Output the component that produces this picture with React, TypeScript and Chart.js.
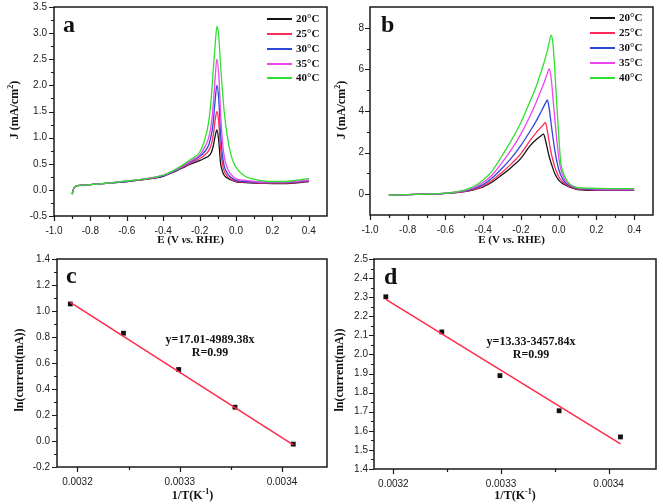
import React, { useEffect, useRef } from "react";
import { Chart, registerables } from "chart.js";

Chart.register(...registerables);

const SERIF = '"Liberation Serif", "Times New Roman", serif';
const SANS = '"Liberation Sans", Arial, sans-serif';

const TEMP_LABELS = ["20°C", "25°C", "30°C", "35°C", "40°C"];
const TEMP_COLORS = ["#141414", "#ff2a5a", "#2d48d6", "#f046f0", "#2fe02f"];
const FIT_COLOR = "#ff2a4a";

// ---------- Panel a ----------
const A_E = [-0.9, -0.895, -0.89, -0.88, -0.85, -0.8, -0.7, -0.6, -0.5, -0.4, -0.35, -0.3, -0.25, -0.2, -0.175, -0.15, -0.135, -0.125, -0.115, -0.105, -0.095, -0.085, -0.075, -0.065, -0.05, -0.035, -0.02, 0, 0.05, 0.1, 0.15, 0.2, 0.25, 0.3, 0.35, 0.4];
const A_J20 = [-0.08, -0.01, 0.04, 0.07, 0.09, 0.1, 0.13, 0.16, 0.2, 0.26, 0.33, 0.41, 0.49, 0.56, 0.6, 0.65, 0.72, 0.84, 1.02, 1.15, 0.95, 0.52, 0.36, 0.28, 0.23, 0.2, 0.18, 0.155, 0.14, 0.13, 0.125, 0.12, 0.12, 0.125, 0.14, 0.16];
const A_J25 = [-0.08, -0.01, 0.04, 0.07, 0.09, 0.1, 0.13, 0.16, 0.2, 0.27, 0.34, 0.42, 0.51, 0.6, 0.66, 0.75, 0.88, 1.05, 1.32, 1.5, 1.3, 0.8, 0.5, 0.36, 0.27, 0.22, 0.19, 0.165, 0.15, 0.14, 0.13, 0.13, 0.13, 0.135, 0.15, 0.17];
const A_J30 = [-0.08, -0.01, 0.04, 0.07, 0.09, 0.1, 0.13, 0.16, 0.21, 0.27, 0.34, 0.43, 0.53, 0.64, 0.72, 0.86, 1.06, 1.3, 1.7, 2.0, 1.75, 1.1, 0.68, 0.46, 0.33, 0.26, 0.22, 0.18, 0.16, 0.15, 0.14, 0.14, 0.14, 0.145, 0.16, 0.18];
const A_J35 = [-0.08, -0.01, 0.04, 0.07, 0.09, 0.1, 0.13, 0.17, 0.21, 0.28, 0.35, 0.44, 0.55, 0.67, 0.8, 1.0, 1.28, 1.62, 2.12, 2.5, 2.22, 1.5, 0.95, 0.64, 0.44, 0.33, 0.27, 0.21, 0.18, 0.16, 0.15, 0.15, 0.15, 0.155, 0.17, 0.19];
const A_J40 = [-0.08, -0.01, 0.04, 0.07, 0.09, 0.1, 0.13, 0.17, 0.21, 0.28, 0.36, 0.46, 0.58, 0.72, 0.92, 1.3, 1.8, 2.3, 2.75, 3.13, 2.95, 2.4, 1.92, 1.5, 1.08, 0.78, 0.58, 0.43, 0.26, 0.2, 0.17, 0.16, 0.16, 0.17, 0.19, 0.22];
const A_X_TICKS = [-1.0, -0.8, -0.6, -0.4, -0.2, 0.0, 0.2, 0.4];
const A_X_MINOR = [-0.9, -0.7, -0.5, -0.3, -0.1, 0.1, 0.3];
const A_Y_TICKS = [-0.5, 0.0, 0.5, 1.0, 1.5, 2.0, 2.5, 3.0, 3.5];
const A_Y_MINOR = [-0.25, 0.25, 0.75, 1.25, 1.75, 2.25, 2.75, 3.25];

// ---------- Panel b ----------
const B_E20 = [-0.9, -0.8, -0.7, -0.6, -0.5, -0.45, -0.4, -0.35, -0.3, -0.25, -0.2, -0.15, -0.12, -0.1, -0.08, -0.07, -0.06, -0.05, -0.04, -0.02, 0, 0.02, 0.04, 0.07, 0.1, 0.15, 0.2, 0.3, 0.4];
const B_J20 = [-0.05, -0.02, 0.0, 0.04, 0.12, 0.21, 0.35, 0.6, 0.93, 1.3, 1.72, 2.35, 2.62, 2.76, 2.89, 2.6, 2.2, 1.8, 1.5, 0.98, 0.68, 0.52, 0.42, 0.3, 0.22, 0.19, 0.18, 0.18, 0.18];
const B_E25 = [-0.9, -0.8, -0.7, -0.6, -0.5, -0.45, -0.4, -0.35, -0.3, -0.25, -0.2, -0.15, -0.12, -0.1, -0.08, -0.07, -0.06, -0.05, -0.04, -0.03, -0.02, 0, 0.02, 0.04, 0.07, 0.1, 0.15, 0.2, 0.3, 0.4];
const B_J25 = [-0.05, -0.02, 0.0, 0.04, 0.13, 0.23, 0.39, 0.68, 1.05, 1.47, 1.95, 2.6, 2.95, 3.15, 3.35, 3.45, 3.05, 2.5, 2.0, 1.62, 1.3, 0.85, 0.6, 0.46, 0.33, 0.25, 0.22, 0.2, 0.19, 0.19];
const B_E30 = [-0.9, -0.8, -0.7, -0.6, -0.5, -0.45, -0.4, -0.35, -0.3, -0.25, -0.2, -0.15, -0.12, -0.1, -0.08, -0.07, -0.06, -0.05, -0.04, -0.03, -0.02, -0.01, 0, 0.02, 0.04, 0.07, 0.1, 0.15, 0.2, 0.3, 0.4];
const B_J30 = [-0.05, -0.02, 0.0, 0.04, 0.15, 0.27, 0.46, 0.8, 1.25, 1.75, 2.35, 3.05, 3.5, 3.85, 4.2, 4.38, 4.53, 4.1, 3.4, 2.7, 2.1, 1.6, 1.2, 0.75, 0.52, 0.36, 0.28, 0.24, 0.22, 0.21, 0.21];
const B_E35 = [-0.9, -0.8, -0.7, -0.6, -0.5, -0.45, -0.4, -0.35, -0.3, -0.25, -0.2, -0.15, -0.12, -0.1, -0.08, -0.06, -0.05, -0.04, -0.03, -0.02, -0.01, 0, 0.01, 0.02, 0.04, 0.07, 0.1, 0.15, 0.2, 0.3, 0.4];
const B_J35 = [-0.05, -0.02, 0.0, 0.05, 0.17, 0.31, 0.56, 0.95, 1.52, 2.15, 2.9, 3.8, 4.4, 4.85, 5.3, 5.8, 6.02, 5.6, 4.6, 3.6, 2.6, 1.8, 1.25, 0.95, 0.6, 0.4, 0.31, 0.27, 0.25, 0.24, 0.24];
const B_E40 = [-0.9, -0.8, -0.7, -0.6, -0.5, -0.45, -0.4, -0.35, -0.3, -0.25, -0.2, -0.15, -0.12, -0.1, -0.08, -0.06, -0.05, -0.04, -0.03, -0.02, -0.01, 0, 0.01, 0.02, 0.035, 0.05, 0.07, 0.1, 0.15, 0.2, 0.3, 0.4];
const B_J40 = [-0.05, -0.02, 0.0, 0.05, 0.2, 0.37, 0.68, 1.15, 1.85, 2.6, 3.45, 4.5, 5.15, 5.7, 6.25, 6.9, 7.3, 7.65, 7.2, 5.9, 4.3, 2.9, 1.6, 1.15, 0.8, 0.58, 0.42, 0.31, 0.29, 0.28, 0.27, 0.27];
const B_X_TICKS = [-1.0, -0.8, -0.6, -0.4, -0.2, 0.0, 0.2, 0.4];
const B_X_MINOR = [-0.9, -0.7, -0.5, -0.3, -0.1, 0.1, 0.3];
const B_Y_TICKS = [0, 2, 4, 6, 8];
const B_Y_MINOR = [1, 3, 5, 7];

// ---------- Panels c and d ----------
const INV_T = [0.003193, 0.003245, 0.003299, 0.003354, 0.003411];
const C_LN = [1.054, 0.829, 0.55, 0.26, -0.024];
const D_LN = [2.302, 2.118, 1.889, 1.705, 1.568];
const FIT_X = [0.003193, 0.003411];
const C_FIT = [1.067, -0.029];
const D_FIT = [2.288, 1.532];
const CD_X_TICKS = [0.0032, 0.0033, 0.0034];
const CD_X_MINOR = [0.00325, 0.00335];
const C_Y_TICKS = [-0.2, 0.0, 0.2, 0.4, 0.6, 0.8, 1.0, 1.2, 1.4];
const C_Y_MINOR = [-0.1, 0.1, 0.3, 0.5, 0.7, 0.9, 1.1, 1.3];
const D_Y_TICKS = [1.4, 1.5, 1.6, 1.7, 1.8, 1.9, 2.0, 2.1, 2.2, 2.3, 2.4, 2.5];
const D_Y_MINOR = [1.45, 1.55, 1.65, 1.75, 1.85, 1.95, 2.05, 2.15, 2.25, 2.35, 2.45];
const C_EQ = ["y=17.01-4989.38x", "R=0.99"];
const D_EQ = ["y=13.33-3457.84x", "R=0.99"];

type Seg = { t: string; f: string; dy?: number };
type Axis = { min: number; max: number; ticks: number[]; minor: number[]; digits: number; pad: number };
type Spec = {
  key: string;
  left: number; top: number; w: number; h: number;
  area: { l: number; t: number; r: number; b: number };
  x: Axis; y: Axis;
  datasets: any[];
  letter: { t: string; x: number; y: number };
  xTitle: { segs: Seg[]; x: number; y: number };
  yTitle: { segs: Seg[]; x: number; y: number };
  legend?: { x1: number; x2: number; tx: number; y0: number; dy: number };
  notes?: { t: string; x: number; y: number }[];
};

const B12 = `bold 12px ${SERIF}`;
const B11 = `bold 11px ${SERIF}`;
const SUP = `bold 8px ${SERIF}`;
const INK = "#111";
const FRAME = "#1a1a1a";

const E_TITLE: Seg[] = [
  { t: "E (V ", f: B11 },
  { t: "vs.", f: `italic bold 11px ${SERIF}` },
  { t: " RHE)", f: B11 },
];
const J_TITLE: Seg[] = [{ t: "J (mA/cm", f: B12 }, { t: "2", f: SUP, dy: -5 }, { t: ")", f: B12 }];
const LN_TITLE: Seg[] = [{ t: "ln(current(mA))", f: B12 }];
const T_TITLE: Seg[] = [{ t: "1/T(K", f: B12 }, { t: "-1", f: SUP, dy: -5 }, { t: ")", f: B12 }];

function pts(xs: number[], ys: number[]) {
  return xs.map((x, i) => ({ x, y: ys[i] }));
}

function curve(xs: number[], ys: number[], i: number) {
  return {
    data: pts(xs, ys),
    showLine: true,
    borderColor: TEMP_COLORS[i],
    borderWidth: 1.3,
    pointRadius: 0,
    cubicInterpolationMode: "monotone",
  };
}

function drawRich(ctx: CanvasRenderingContext2D, segs: Seg[], cx: number, cy: number, rot: boolean) {
  ctx.save();
  ctx.translate(cx, cy);
  if (rot) ctx.rotate(-Math.PI / 2);
  ctx.textBaseline = "alphabetic";
  ctx.textAlign = "left";
  ctx.fillStyle = INK;
  let total = 0;
  const widths = segs.map((sg) => {
    ctx.font = sg.f;
    const w = ctx.measureText(sg.t).width;
    total += w;
    return w;
  });
  let x = -total / 2;
  segs.forEach((sg, i) => {
    ctx.font = sg.f;
    ctx.fillText(sg.t, x, sg.dy || 0);
    x += widths[i];
  });
  ctx.restore();
}

function makeChart(canvas: HTMLCanvasElement, s: Spec) {
  const deco = {
    id: "deco" + s.key,
    afterDraw(chart: any) {
      const ctx: CanvasRenderingContext2D = chart.ctx;
      const a = chart.chartArea;
      const xs = chart.scales.x;
      const ys = chart.scales.y;
      const L = Math.round(a.left);
      const T = Math.round(a.top);
      const R = Math.round(a.right);
      const B = Math.round(a.bottom);
      ctx.save();
      // frame (about 1.5 px, as in the reference)
      ctx.strokeStyle = FRAME;
      ctx.lineWidth = 1.5;
      ctx.beginPath();
      ctx.rect(L, T, R - L, B - T);
      ctx.stroke();
      // outward ticks
      ctx.lineWidth = 1.2;
      ctx.beginPath();
      const tx = (vals: number[], len: number) =>
        vals.forEach((v) => {
          const p = Math.round(xs.getPixelForValue(v)) + 0.5;
          ctx.moveTo(p, B);
          ctx.lineTo(p, B + len);
        });
      const ty = (vals: number[], len: number) =>
        vals.forEach((v) => {
          const p = Math.round(ys.getPixelForValue(v)) + 0.5;
          ctx.moveTo(L, p);
          ctx.lineTo(L - len, p);
        });
      tx(s.x.ticks, 5);
      tx(s.x.minor, 3);
      ty(s.y.ticks, 5);
      ty(s.y.minor, 3);
      ctx.stroke();
      ctx.restore();

      drawRich(ctx, s.xTitle.segs, s.xTitle.x, s.xTitle.y, false);
      drawRich(ctx, s.yTitle.segs, s.yTitle.x, s.yTitle.y, true);

      ctx.save();
      ctx.fillStyle = INK;
      ctx.font = `bold 24px ${SERIF}`;
      ctx.textAlign = "left";
      ctx.textBaseline = "alphabetic";
      ctx.fillText(s.letter.t, s.letter.x, s.letter.y);
      if (s.legend) {
        const lg = s.legend;
        TEMP_LABELS.forEach((lab, i) => {
          const y = Math.round(lg.y0 + i * lg.dy);
          ctx.fillStyle = TEMP_COLORS[i];
          ctx.fillRect(lg.x1, y - 1, lg.x2 - lg.x1, 2);
          ctx.fillStyle = INK;
          ctx.font = B11;
          ctx.textAlign = "left";
          ctx.textBaseline = "middle";
          ctx.fillText(lab, lg.tx, y + 0.5);
        });
      }
      if (s.notes) {
        ctx.fillStyle = INK;
        ctx.font = B12;
        ctx.textAlign = "center";
        ctx.textBaseline = "alphabetic";
        s.notes.forEach((n) => ctx.fillText(n.t, n.x, n.y));
      }
      ctx.restore();
    },
  };
  const zeroPad = (sc: any) => {
    sc.paddingTop = 0;
    sc.paddingBottom = 0;
    sc.paddingLeft = 0;
    sc.paddingRight = 0;
  };
  const axis = (ax: Axis, isX: boolean) => ({
    type: "linear",
    position: isX ? "bottom" : "left",
    min: ax.min,
    max: ax.max,
    grid: { display: false, drawTicks: false, tickLength: 0 },
    border: { display: false },
    ticks: {
      autoSkip: false,
      maxRotation: 0,
      minRotation: 0,
      padding: ax.pad,
      color: "#222",
      font: { family: SANS, size: 10 },
      callback: (v: any) => Number(v).toFixed(ax.digits),
    },
    afterBuildTicks: (sc: any) => {
      sc.ticks = ax.ticks.map((v) => ({ value: v }));
    },
    afterFit: (sc: any) => {
      if (isX) sc.height = s.h - s.area.b;
      else sc.width = s.area.l;
      zeroPad(sc);
    },
  });
  return new Chart(canvas, {
    type: "scatter",
    data: { datasets: s.datasets },
    options: {
      responsive: false,
      animation: false,
      devicePixelRatio: 1,
      events: [],
      layout: { padding: { left: 0, bottom: 0, top: s.area.t, right: s.w - s.area.r } },
      plugins: { legend: { display: false }, tooltip: { enabled: false } },
      scales: { x: axis(s.x, true), y: axis(s.y, false) },
    } as any,
    plugins: [deco],
  } as any);
}

const A_SERIES = [A_J20, A_J25, A_J30, A_J35, A_J40];
const B_SERIES: [number[], number[]][] = [
  [B_E20, B_J20],
  [B_E25, B_J25],
  [B_E30, B_J30],
  [B_E35, B_J35],
  [B_E40, B_J40],
];

function fitSet(ys: number[]) {
  return { data: pts(FIT_X, ys), showLine: true, borderColor: FIT_COLOR, borderWidth: 1.5, pointRadius: 0 };
}
function markSet(ys: number[]) {
  return { data: pts(INV_T, ys), showLine: false, pointStyle: "rect", pointRadius: 3.4, backgroundColor: INK, borderWidth: 0 };
}

function buildSpecs(): Spec[] {
  return [
    {
      key: "a", left: 0, top: 0, w: 331, h: 252,
      area: { l: 54, t: 7, r: 327, b: 216 },
      x: { min: -1.0, max: 0.5, ticks: A_X_TICKS, minor: A_X_MINOR, digits: 1, pad: 9 },
      y: { min: -0.5, max: 3.5, ticks: A_Y_TICKS, minor: A_Y_MINOR, digits: 1, pad: 7 },
      datasets: A_SERIES.map((ys, i) => curve(A_E, ys, i)).reverse(),
      letter: { t: "a", x: 63, y: 32 },
      xTitle: { segs: E_TITLE, x: 190.5, y: 243 },
      yTitle: { segs: J_TITLE, x: 17.5, y: 110 },
      legend: { x1: 267, x2: 292, tx: 296, y0: 19.3, dy: 14.75 },
    },
    {
      key: "b", left: 331, top: 0, w: 332, h: 252,
      area: { l: 39, t: 7, r: 322, b: 215 },
      x: { min: -1.0, max: 0.5, ticks: B_X_TICKS, minor: B_X_MINOR, digits: 1, pad: 9 },
      y: { min: -1, max: 9, ticks: B_Y_TICKS, minor: B_Y_MINOR, digits: 0, pad: 6 },
      datasets: B_SERIES.map(([xs, ys], i) => curve(xs, ys, i)).reverse(),
      letter: { t: "b", x: 50, y: 32 },
      xTitle: { segs: E_TITLE, x: 180.5, y: 243 },
      yTitle: { segs: J_TITLE, x: 14, y: 110 },
      legend: { x1: 259, x2: 284, tx: 288, y0: 18.3, dy: 14.85 },
    },
    {
      key: "c", left: 0, top: 252, w: 331, h: 252,
      area: { l: 57, t: 7, r: 328, b: 215 },
      x: { min: 0.00318, max: 0.003444, ticks: CD_X_TICKS, minor: CD_X_MINOR, digits: 4, pad: 9 },
      y: { min: -0.2, max: 1.4, ticks: C_Y_TICKS, minor: C_Y_MINOR, digits: 1, pad: 7 },
      datasets: [fitSet(C_FIT), markSet(C_LN)],
      letter: { t: "c", x: 66, y: 31 },
      xTitle: { segs: T_TITLE, x: 192.5, y: 247 },
      yTitle: { segs: LN_TITLE, x: 23, y: 118 },
      notes: [
        { t: C_EQ[0], x: 210, y: 91 },
        { t: C_EQ[1], x: 210, y: 104 },
      ],
    },
    {
      key: "d", left: 331, top: 252, w: 332, h: 252,
      area: { l: 43, t: 7, r: 325, b: 217 },
      x: { min: 0.003182, max: 0.003444, ticks: CD_X_TICKS, minor: CD_X_MINOR, digits: 4, pad: 9 },
      y: { min: 1.4, max: 2.5, ticks: D_Y_TICKS, minor: D_Y_MINOR, digits: 1, pad: 6 },
      datasets: [fitSet(D_FIT), markSet(D_LN)],
      letter: { t: "d", x: 53, y: 32 },
      xTitle: { segs: T_TITLE, x: 184, y: 247 },
      yTitle: { segs: LN_TITLE, x: 12, y: 118 },
      notes: [
        { t: D_EQ[0], x: 200, y: 93 },
        { t: D_EQ[1], x: 200, y: 106 },
      ],
    },
  ];
}

export default function App() {
  const ref = useRef<HTMLCanvasElement | null>(null);
  useEffect(() => {
    const main = ref.current;
    if (!main) return;
    const mctx = main.getContext("2d");
    if (!mctx) return;
    mctx.fillStyle = "#fff";
    mctx.fillRect(0, 0, main.width, main.height);
    const charts: Chart[] = [];
    buildSpecs().forEach((s) => {
      const c = document.createElement("canvas");
      c.width = s.w;
      c.height = s.h;
      const chart = makeChart(c, s);
      charts.push(chart);
      mctx.drawImage(c, s.left, s.top);
    });
    return () => charts.forEach((ch) => ch.destroy());
  }, []);
  return (
    <canvas
      ref={ref}
      width={663}
      height={504}
      style={{ position: "fixed", left: 0, top: 0, width: 663, height: 504, display: "block", background: "#fff" }}
    />
  );
}
